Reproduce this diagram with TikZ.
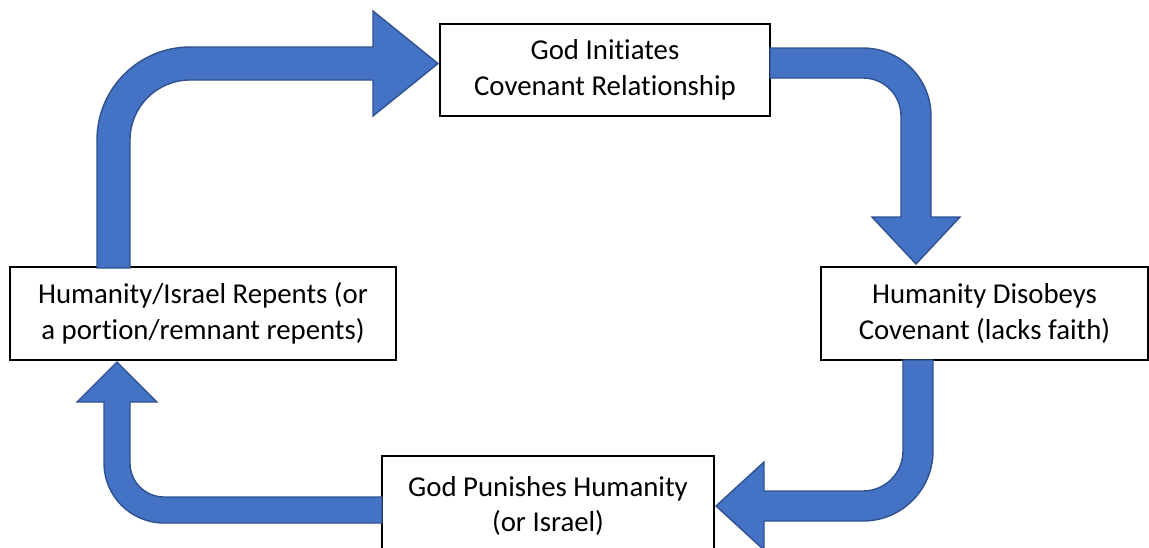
\documentclass[tikz,border=0pt]{standalone}
\usepackage{fontspec}
\setmainfont{Carlito}[Ligatures=NoCommon]
\definecolor{arrowfill}{HTML}{4472C4}
\definecolor{arrowline}{HTML}{2F528F}
\begin{document}
\begin{tikzpicture}[x=1pt,y=-1pt,
  box/.style={draw=black,line width=1.3pt,fill=white,align=center,inner sep=0pt,
    font=\fontsize{28.8}{35.5}\selectfont},
  bigarrow/.style={fill=arrowfill,draw=arrowline,line width=1.4pt,line join=miter}]
\useasboundingbox (0,0) rectangle (1149,547);
% boxes
\node[box,minimum width=330pt,minimum height=92pt] (top) at (605,70) {God Initiates\\Covenant Relationship};
\node[box,minimum width=327pt,minimum height=93pt] (right) at (984.5,313.5) {Humanity Disobeys\\Covenant (lacks faith)};
\node[box,minimum width=332pt,minimum height=100pt] (bottom) at (548,506) {God Punishes Humanity\\(or Israel)};
\node[box,minimum width=386pt,minimum height=93pt] (left) at (203,313.5) {Humanity/Israel Repents (or\\a portion/remnant repents)};
% arrow: left -> top
\draw[bigarrow] (97,268) -- (97,140) arc[start angle=180,end angle=90,radius=93pt]
  -- (373,47) -- (373,11) -- (438,63.5) -- (373,116) -- (373,80) -- (190,80)
  arc[start angle=90,end angle=180,radius=60pt] -- (130,268) -- cycle;
% arrow: top -> right
\draw[bigarrow] (770,48) -- (863,48) arc[start angle=90,end angle=0,radius=68pt]
  -- (931,217) -- (960,217) -- (916,264) -- (872,217) -- (901,217) -- (901,116)
  arc[start angle=0,end angle=90,radius=38pt] -- (770,78) -- cycle;
% arrow: right -> bottom
\draw[bigarrow] (903,360) -- (933,360) -- (933,451) arc[start angle=0,end angle=-90,radius=70pt]
  -- (764,521) -- (764,550) -- (716,506) -- (764,462) -- (764,491) -- (863,491)
  arc[start angle=-90,end angle=0,radius=40pt] -- cycle;
% arrow: bottom -> left
\draw[bigarrow] (382,497) -- (382,523) -- (164,523) arc[start angle=-90,end angle=-180,radius=60pt]
  -- (104,402) -- (77,402) -- (117,362) -- (157,402) -- (130,402) -- (130,463)
  arc[start angle=180,end angle=270,radius=34pt] -- cycle;
\end{tikzpicture}
\end{document}
